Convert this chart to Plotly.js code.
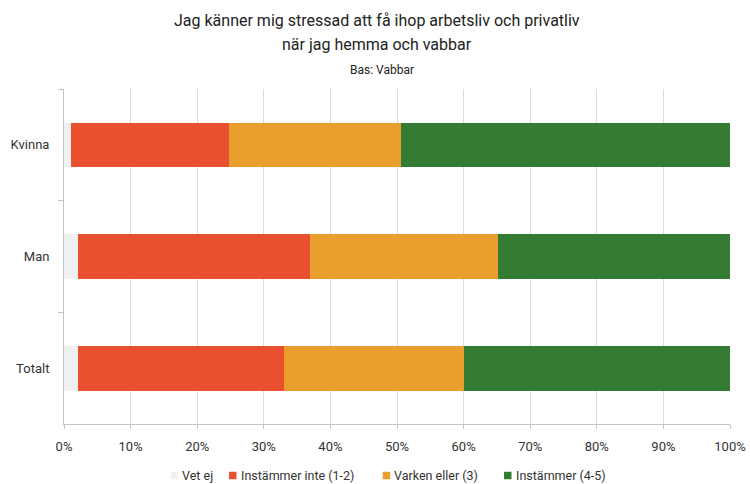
<!DOCTYPE html>
<html>
<head>
<meta charset="utf-8">
<script src="https://cdn.plot.ly/plotly-3.0.1.min.js"></script>
<style>
  html, body { margin: 0; padding: 0; background: #ffffff; }
  #chart { width: 750px; height: 484px; }
</style>
</head>
<body>
<div id="chart"></div>
<script>
// Survey groups, top to bottom
const groups = ["Kvinna", "Man", "Totalt"];

// Answer shares (percent) per group
const vetEj         = [1.0, 2.1, 2.1];
const instammerInte = [23.8, 34.9, 30.9];
const varkenEller   = [25.8, 28.1, 27.1];
const instammer     = [49.4, 34.9, 39.9];

const seriesNames  = ["Vet ej", "Instämmer inte (1-2)", "Varken eller (3)", "Instämmer (4-5)"];
const seriesValues = [vetEj, instammerInte, varkenEller, instammer];
const seriesColors = ["#f0f0f0", "#e8502f", "#ea9e2d", "#347c33"];

const FONT = "Roboto, 'Open Sans', sans-serif";

// Plot area geometry (pixels)
const W = 750, H = 484;
const M = { l: 64, r: 20, t: 89, b: 60 };
const plotW = W - M.l - M.r;
const plotH = H - M.t - M.b;
const px = x => (x - M.l) / plotW;          // pixel x -> paper x
const py = y => (H - M.b - y) / plotH;      // pixel y -> paper y

const traces = seriesNames.map((name, i) => ({
  type: "bar",
  orientation: "h",
  name: name,
  y: groups,
  x: seriesValues[i].map(v => v / 100),
  marker: { color: seriesColors[i], line: { width: 0 } },
  showlegend: false,
  hoverinfo: "x+name"
}));

// Compact legend below the axis: small squares with labels
const legendSquareX = [170.7, 229, 382.7, 504];
const legendY = 475.5;
const legendShapes = seriesNames.map((name, i) => ({
  type: "rect",
  xref: "paper", yref: "paper",
  x0: px(legendSquareX[i]), x1: px(legendSquareX[i] + 7.5),
  y0: py(legendY + 3.75), y1: py(legendY - 3.75),
  fillcolor: seriesColors[i],
  line: { width: 0 }
}));
const legendLabels = seriesNames.map((name, i) => ({
  text: name,
  xref: "paper", yref: "paper",
  x: px(legendSquareX[i] + 9.5), y: py(legendY),
  xanchor: "left", yanchor: "middle", showarrow: false,
  font: { family: FONT, size: 12.5, color: "#333333" }
}));

const titleLines = [
  { text: "Jag känner mig stressad att få ihop arbetsliv och privatliv", cx: 377, cy: 20, size: 16 },
  { text: "när jag hemma och vabbar", cx: 377, cy: 44.5, size: 16 },
  { text: "Bas: Vabbar", cx: 381.5, cy: 70, size: 12 }
];
const titleAnnotations = titleLines.map(t => ({
  text: t.text,
  xref: "paper", yref: "paper", x: px(t.cx), y: py(t.cy),
  xanchor: "center", yanchor: "middle", showarrow: false,
  font: { family: FONT, size: t.size, color: "#222222" }
}));

const layout = {
  width: W,
  height: H,
  paper_bgcolor: "#ffffff",
  plot_bgcolor: "#ffffff",
  barmode: "stack",
  bargap: 0.6,
  margin: { l: M.l, r: M.r, t: M.t, b: M.b, autoexpand: false },
  font: { family: FONT, color: "#333333", size: 13 },
  showlegend: false,
  xaxis: {
    range: [0, 1],
    dtick: 0.1,
    tick0: 0,
    tickformat: ".0%",
    showgrid: true,
    gridcolor: "#dcdcdc",
    gridwidth: 1,
    zeroline: false,
    showline: true,
    linecolor: "#c4c4c4",
    linewidth: 1,
    ticks: "outside",
    ticklen: 4,
    tickcolor: "#c4c4c4",
    ticklabelstandoff: 6,
    tickfont: { family: FONT, size: 13, color: "#333333" },
    automargin: false,
    fixedrange: true
  },
  yaxis: {
    type: "category",
    categoryorder: "array",
    categoryarray: groups,
    autorange: "reversed",
    showgrid: false,
    zeroline: false,
    showline: true,
    linecolor: "#c4c4c4",
    linewidth: 1,
    ticks: "outside",
    tickson: "boundaries",
    ticklen: 5,
    tickcolor: "#c4c4c4",
    ticklabelstandoff: 11,
    tickfont: { family: FONT, size: 13, color: "#333333" },
    automargin: false,
    fixedrange: true
  },
  shapes: legendShapes,
  annotations: titleAnnotations.concat(legendLabels)
};

Plotly.newPlot("chart", traces, layout, { displayModeBar: false, staticPlot: true });
</script>
</body>
</html>
